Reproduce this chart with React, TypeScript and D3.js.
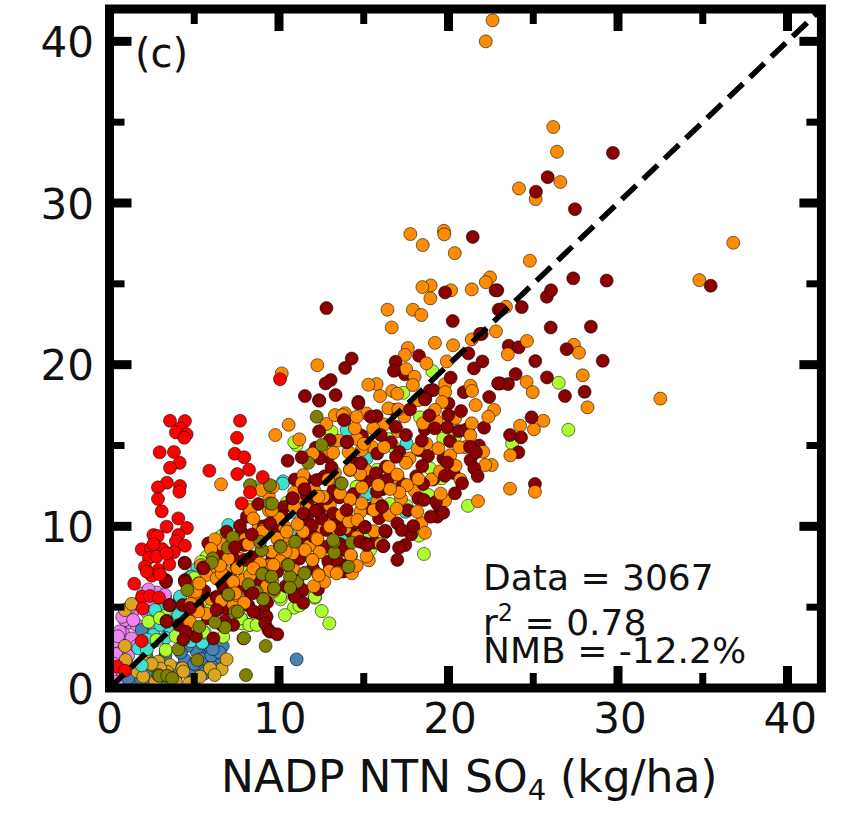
import * as d3 from "d3";

type Pt = [number, number];

const violet: Pt[] = [
  [1.21,4.04],[1.37,4.72],[2.49,3.96],[1.21,5.03],[1.7,5.24],[0.81,3.38],[0.62,2.55],[1.31,3.07],
  [0.52,1.73],[2.39,5.24],[3.27,5.65],[1.99,5.86],[1.99,3.59],[0.32,0.93],[0.9,4.2],[1.6,3.9],
  [0.6,3.5],[1.1,2.0],[0.4,2.1],[2.8,5.9],[2.3,6.1],[1.0,0.5],[0.5,0.4],[2.2,4.7],[0.75,4.4],
  [0.3,2.9],[0.5,3.2],[0.25,1.5],[0.7,1.1],[1.0,1.5],[1.6,2.6],[1.4,4.2],[2.59,3.9],[3.27,5.76],
];
const steelblue: Pt[] = [
  [6.52,1.84],[6.68,2.6],[5.73,1.98],[4.75,1.05],[5.34,1.22],[1.9,3.59],[1.5,0.62],[4.45,1.73],
  [5.14,2.24],[5.93,2.52],[11.04,1.77],[2.2,0.3],[3.0,0.4],[2.6,2.9],[3.9,0.7],[4.0,1.2],
  [6.05,1.3],[5.0,0.5],[1.2,0.2],[5.4,1.8],[4.6,2.6],[1.1,0.6],[2.4,0.9],[3.1,0.3],[2.2,1.9],
  [3.3,2.0],[4.2,2.2],[5.0,1.5],[5.6,0.9],[6.0,2.0],[6.5,2.2],[6.09,2.4],
];
const goldenrod: Pt[] = [
  [0.91,2.6],[0.95,1.73],[2.14,2.21],[1.64,1.01],[2.49,1.42],[3.57,1.42],[2.88,1.63],[6.62,1.16],
  [5.93,1.22],[6.91,1.77],[4.3,1.22],[0.91,4.82],[1.99,0.7],[3.17,0.8],[5.34,0.7],[3.4,1.0],
  [2.0,1.6],[3.9,0.4],[4.7,0.3],[3.0,1.2],[1.3,5.2],[2.7,0.4],[6.2,0.8],[4.36,1.02],[2.49,1.49],
];
const turquoise: Pt[] = [
  [13.79,9.36],[15.47,11.94],[17.53,15.13],[15.17,14.2],[17.47,10.9],[13.99,15.95],[13.78,9.36],
  [10.25,12.78],[12.91,11.05],[4.16,5.55],[4.06,4.62],[3.57,3.63],[5.53,2.83],[5.18,7.4],[11.83,14.41],
  [2.98,4.82],[7.01,10.08],[8.48,12.45],[10.65,9.46],[15.17,12.04],[2.59,3.28],[4.06,4.51],[3.57,3.59],
  [4.16,5.65],[5.44,2.76],[2.59,4.72],[1.7,2.45],[4.75,6.88],[10.75,10.9],[6.3,7.9],[12.6,13.0],
  [1.9,1.4],[2.2,3.0],[3.0,3.9],[2.2,2.4],[3.3,3.1],[4.3,3.0],[4.8,2.9],[2.69,4.83],[10.22,12.65],
  [5.48,2.81],[4.85,6.89],
];
const greenYellow: Pt[] = [
  [19.05,19.6],[17.33,18.26],[26.5,18.88],[27.07,15.97],[23.75,15.13],[21.15,11.27],[18.55,8.29],
  [18.26,9.42],[16.06,9.52],[14.68,15.69],[16.45,15.4],[18.32,16.74],[19.69,15.44],[20.38,15.54],
  [18.91,13.59],[19.6,12.97],[18.81,11.94],[17.53,11.26],[16.55,11.38],[14.62,12.45],[15.17,9.36],
  [15.37,8.53],[16.74,14.92],[12.97,4.0],[12.52,4.76],[12.12,5.58],[10.88,4.97],[10.35,4.51],[10.1,5.49],
  [8.29,3.9],[7.76,4.31],[5.63,3.42],[3.32,2.29],[10.45,11.46],[11.04,15.03],[13.1,15.85],[14.64,15.69],
  [14.58,12.45],[13.2,10.39],[5.73,8.12],[8.09,7.19],[3.17,4.37],[6.71,3.17],[3.32,2.35],[5.53,3.48],
  [2.78,2.97],[3.27,4.45],[5.83,5.18],[11.9,6.0],[11.2,5.1],[9.8,9.9],[11.9,11.4],[12.9,8.0],[7.2,4.9],
  [9.0,6.4],[10.9,15.2],[15.8,13.5],[17.0,13.0],[2.3,4.1],[3.9,3.2],[4.9,3.5],[6.0,4.9],[6.5,5.0],
  [5.0,6.8],[5.4,7.8],[6.6,9.4],[7.0,9.0],[8.2,11.2],[7.8,4.0],[8.9,4.4],[12.12,5.65],[13.11,10.18],
  [16.16,9.56],[15.27,9.4],[10.06,5.65],[7.74,4.31],[8.25,3.9],[8.68,3.9],[7.96,7.2],[2.98,4.32],
];
const darkRedFill: Pt[] = [
  [5.2,5.1],[5.6,6.0],[5.9,7.3],[6.4,8.3],[6.7,6.3],[6.9,4.9],[7.5,7.6],[7.8,9.6],[8.1,10.6],[8.4,8.1],
  [8.7,7.5],[8.2,5.1],[8.9,4.6],[9.3,5.3],[9.6,8.0],[9.9,9.6],[10.3,11.2],[10.6,7.9],[10.4,6.3],[10.9,5.7],
  [11.3,9.3],[11.7,10.3],[11.6,12.9],[12.0,7.4],[12.3,6.1],[12.5,11.2],[12.7,13.1],[12.9,14.3],[13.2,12.2],
  [13.4,10.4],[13.6,8.9],[13.8,7.2],[14.2,9.7],[14.4,12.0],[14.6,13.9],[14.9,15.6],[15.2,12.8],[15.4,11.1],
  [15.6,9.0],[15.9,10.5],[16.1,12.3],[16.3,13.7],[16.6,15.2],[16.8,17.2],[17.1,14.6],[17.3,12.6],[17.6,11.0],
  [17.8,9.5],[18.1,13.1],[18.3,14.7],[18.6,16.0],[18.9,18.4],[19.1,12.9],[19.4,11.3],[19.7,14.2],[20.0,17.6],
  [20.3,13.3],[20.6,15.9],[20.9,18.3],[21.3,14.1],[21.8,15.0],[22.1,16.1],[22.4,18.0],[4.1,3.9],[5.1,3.2],[5.8,4.3],
];
const darkRedUnder: Pt[] = [
  [21.17,20.7],[18.26,20.55],[14.29,20.38],[13.9,19.8],[17.43,19.4],[13.05,19.05],[11.53,18.06],[12.36,17.8],
  [13.34,18.12],[14.68,17.7],[19.1,18.43],[18.63,17.9],[22.94,18.84],[21.96,21.9],[25.8,24.2],[22.88,24.6],
  [23.55,21.17],[24.14,21.07],[23.06,18.84],[23.51,18.8],[24.12,14.58],[25.1,12.62],[21.17,16.06],[20.97,15.95],
  [19.26,11.52],[18.51,12.62],[13.89,16.62],[15.76,16.82],[16.88,16.16],[20.09,15.27],[15.8,14.5],[15.72,13.28],
  [13.99,15.2],[18.22,11.73],[19.34,10.6],[13.79,8.53],[16.3,9.67],[9.07,4.82],[11.4,6.06],[4.43,7.75],
  [3.33,6.68],[3.57,5.13],[4.45,6.68],[6.32,5.65],[6.36,4.87],[12.38,17.77],[12.16,14.86],[12.42,14.2],
  [13.1,13.65],[10.94,12.9],[13.0,15.34],[14.03,15.23],[12.22,12.86],[11.83,11.73],[12.81,11.73],[13.56,11.79],
  [12.16,10.97],[11.43,10.8],[8.78,11.38],[7.7,10.03],[6.91,9.67],[7.95,8.84],[7.3,8.02],[5.83,8.95],[5.53,7.46],
  [7.99,7.92],[12.71,8.74],[13.99,7.6],[15.07,8.95],[3.37,4.16],[6.62,3.9],[7.3,3.9],[9.27,4.41],[15.07,9.98],
  [3.53,5.13],[4.32,5.13],[6.81,4.14],[6.36,5.55],[4.45,6.57],[3.37,4.1],[3.33,6.57],[10.9,8.6],[12.0,9.4],
  [13.0,7.4],[11.2,8.0],[9.9,7.2],[8.6,6.5],[7.6,6.2],[10.2,10.6],[9.1,10.0],[14.5,10.2],[16.4,12.9],[13.6,9.8],
  [12.52,10.49],[11.93,10.04],[12.81,9.77],[13.2,10.8],[16.06,11.25],[9.67,10.22],[12.91,7.81],[13.5,7.75],
  [13.95,7.46],[10.95,5.65],[15.77,12.14],[11.63,11.93],[13.8,8.64],[7.11,6.89],[8.29,5.92],[8.49,4.73],[9.18,4.0],[9.37,3.6],
];
const orangeFill: Pt[] = [
  [5.0,5.8],[5.4,7.6],[6.0,5.5],[6.3,7.4],[6.6,8.9],[7.0,7.0],[7.3,5.2],[7.7,8.0],[8.0,9.2],[8.3,11.0],
  [8.5,6.2],[8.8,10.0],[9.1,6.9],[9.4,11.9],[9.7,6.0],[10.0,7.5],[10.3,10.0],[10.6,8.9],[10.9,12.1],[11.1,6.5],
  [11.4,11.7],[11.8,8.8],[12.1,12.2],[12.4,9.9],[12.6,14.6],[13.0,11.3],[13.3,13.3],[13.5,15.3],[13.9,9.9],
  [14.1,14.6],[14.3,7.1],[14.6,15.4],[14.8,10.9],[15.1,13.5],[15.3,7.9],[15.5,14.9],[15.8,11.5],[16.0,8.9],
  [16.2,16.3],[16.5,10.7],[16.7,13.0],[17.0,15.9],[17.2,11.7],[17.4,16.8],[17.7,14.2],[18.0,12.2],[18.2,17.8],
  [18.4,10.2],[18.7,15.1],[19.0,12.9],[19.3,16.5],[19.5,13.4],[19.8,11.6],[20.1,14.4],[20.4,16.7],[20.7,12.9],
  [21.0,14.9],[21.6,17.5],
];
const orange: Pt[] = [
  [22.6,41.3],[22.2,40.0],[17.75,28.08],[19.73,28.28],[19.75,28.06],[18.48,27.4],[20.37,26.9],[22.45,25.4],
  [22.2,25.1],[21.37,24.66],[20.15,24.6],[18.95,24.9],[18.46,24.8],[18.93,24.1],[16.4,23.4],[17.9,23.4],
  [18.4,23.07],[16.65,22.3],[19.2,21.35],[20.27,21.2],[17.6,21.03],[17.43,20.6],[18.7,20.08],[19.9,20.2],
  [12.26,19.97],[10.16,19.46],[17.5,19.73],[18.0,19.25],[15.76,18.8],[15.27,18.76],[17.9,18.74],[16.68,18.37],
  [16.98,18.2],[15.96,18.06],[19.8,18.8],[19.8,18.3],[21.3,18.7],[21.39,18.37],[21.37,21.56],[22.8,22.06],
  [26.18,34.7],[26.4,33.17],[26.6,31.3],[24.16,30.9],[25.14,30.24],[24.8,26.43],[36.8,27.54],[34.8,25.23],
  [23.39,23.58],[24.63,21.47],[23.5,20.64],[27.4,21.23],[27.7,20.74],[24.61,18.93],[24.97,18.3],[27.92,19.34],
  [28.2,17.36],[22.69,17.2],[22.35,16.78],[25.6,16.53],[25.04,16.0],[24.22,16.22],[23.65,14.39],[23.63,12.33],
  [25.1,12.14],[21.74,11.56],[32.5,17.9],[16.45,17.3],[17.04,17.24],[19.63,17.69],[19.2,17.2],[18.5,16.37],
  [21.37,16.37],[21.29,15.63],[20.64,14.89],[18.18,14.8],[19.4,14.82],[22.05,14.61],[22.55,13.79],[22.17,13.79],
  [20.42,13.75],[17.49,13.93],[16.47,13.67],[16.98,13.2],[15.88,12.55],[17.55,12.55],[17.1,12.1],[18.22,12.93],
  [19.54,12.02],[14.19,11.63],[14.78,13.23],[14.88,11.42],[15.59,11.0],[16.94,11.09],[18.61,9.6],[18.16,10.9],
  [14.62,9.32],[14.25,8.18],[15.17,8.14],[14.58,7.56],[13.76,10.64],[15.17,16.98],[14.48,16.06],[15.56,16.06],
  [13.89,17.0],[14.19,13.48],[10.57,16.28],[9.78,15.65],[11.2,15.38],[6.58,12.6],[8.94,12.24],[9.53,12.43],
  [8.48,10.49],[9.41,10.97],[12.79,16.33],[13.3,16.88],[13.76,16.88],[14.58,16.78],[14.88,14.72],[13.2,14.55],
  [14.19,13.52],[11.43,13.17],[12.61,11.83],[14.19,11.67],[13.7,10.7],[11.43,9.67],[12.22,9.26],[11.1,10.14],
  [14.6,9.36],[11.53,8.53],[10.8,8.58],[11.98,7.92],[12.97,7.23],[13.44,7.15],[12.32,7.03],[12.67,6.57],
  [12.06,6.3],[9.96,9.15],[9.57,8.43],[10.22,8.12],[10.88,7.3],[8.98,8.53],[9.07,9.77],[9.47,7.6],[8.88,7.71],
  [6.22,9.2],[5.99,8.6],[5.73,6.99],[5.24,6.47],[6.81,7.19],[7.21,6.68],[7.9,6.68],[7.5,5.75],[7.95,5.27],
  [4.65,4.2],[5.1,5.96],[6.32,6.78],[13.6,12.04],[11.34,12.66],[16.55,12.31],[14.19,10.35],[14.23,8.22],
  [9.01,9.67],[5.3,6.47],[4.75,4.1],[6.62,7.09],[7.3,6.57],[10.0,10.5],[12.9,12.9],[11.6,11.1],[13.0,10.0],
  [12.4,8.4],[10.4,9.4],[9.6,6.6],[8.3,7.0],[7.0,8.0],[15.6,9.7],[14.9,12.4],[16.2,14.9],[15.0,15.1],
  [12.0,14.5],[10.9,11.2],[6.6,5.4],[5.7,4.6],[4.8,5.2],[8.2,8.9],[15.86,12.55],[14.13,10.3],[14.62,10.39],
  [12.26,9.21],[9.9,9.25],[10.81,8.33],[10.39,8.43],[11.97,7.92],[14.62,9.32],[13.4,7.09],[12.34,6.97],
  [10.06,7.85],[9.67,7.61],[10.45,9.67],[12.32,11.83],[9.63,12.45],[9.57,11.0],[7.41,5.86],[7.54,7.4],[6.52,7.57],
  [8.49,7.4],[9.27,6.27],[5.24,4.73],
];
const olive: Pt[] = [
  [12.22,16.78],[13.66,12.66],[13.26,8.37],[13.26,9.05],[10.96,9.05],[10.06,8.78],[8.98,8.53],[6.99,8.68],
  [7.27,9.32],[6.09,8.02],[10.49,7.6],[11.53,7.13],[9.04,7.09],[9.47,6.88],[10.65,6.23],[9.7,6.12],[11.04,6.62],
  [8.68,5.96],[9.07,5.5],[7.01,5.75],[7.54,4.72],[6.81,3.75],[5.3,3.79],[6.22,4.06],[4.59,6.06],[9.47,11.42],
  [7.9,3.07],[9.21,2.6],[8.05,0.8],[4.06,2.39],[5.18,1.73],[2.88,0.8],[11.73,13.93],[12.52,15.03],[2.94,0.76],
  [3.41,0.76],[7.01,5.79],[7.4,4.72],[6.03,7.75],[8.88,9.05],[9.01,7.05],[11.06,6.57],[9.47,12.55],[8.29,12.55],
  [13.2,9.15],[10.65,6.88],[14.3,9.0],[14.1,7.5],[8.2,6.4],[3.7,0.6],[7.56,4.73],[10.1,8.74],[10.55,7.61],
  [9.57,6.89],[9.71,6.16],[13.7,12.65],[11.5,7.09],[10.65,6.2],[9.6,11.4],[9.08,5.49],[7.94,3.08],
];
const darkRedTop: Pt[] = [
  [21.43,27.9],[22.78,24.6],[19.8,24.47],[12.8,23.5],[22.96,23.4],[20.25,22.7],[21.86,21.9],[16.88,20.18],
  [16.78,19.62],[22.0,20.2],[21.5,19.77],[20.13,19.2],[12.75,18.84],[22.94,18.84],[29.7,33.1],[25.85,31.6],
  [25.16,30.7],[27.46,29.62],[27.36,25.34],[29.33,25.2],[35.47,24.88],[26.05,24.6],[24.32,23.56],[23.1,23.4],
  [26.03,22.3],[28.4,22.35],[25.12,20.22],[26.97,20.96],[29.1,20.24],[23.96,19.42],[25.81,19.21],[26.87,18.06],
  [28.03,18.32],[24.9,16.74],[23.63,15.65],[24.28,15.5],[18.61,17.85],[17.73,17.24],[20.74,17.13],[19.99,16.88],
  [18.87,16.86],[19.93,16.12],[19.2,16.06],[14.68,17.6],[15.41,16.78],[16.0,15.65],[17.49,15.65],[18.42,15.3],
  [21.27,14.92],[21.62,14.58],[18.79,14.35],[16.9,14.3],[14.84,13.9],[18.45,13.73],[19.93,13.95],[19.79,13.13],
  [21.52,13.59],[21.72,13.11],[20.8,12.66],[20.38,12.04],[18.55,11.63],[19.69,10.84],[18.95,10.6],[17.92,10.02],
  [16.98,10.19],[17.24,9.77],[16.15,8.78],[17.45,8.84],[17.08,8.68],[16.98,7.92],[15.07,9.94],[16.08,11.21],
  [14.78,9.05],[15.17,8.84],[4.51,3.48],[6.13,3.07],[9.47,3.48],[9.9,3.32],[11.43,5.27],[12.36,15.88],
  [10.51,14.06],[11.34,14.27],[13.83,16.57],[10.79,11.73],[9.47,10.18],[8.45,5.86],[6.32,4.82],[4.75,4.95],
  [4.45,7.71],[13.99,11.0],[11.5,12.3],[8.4,9.5],[7.4,8.7],[11.44,10.8],[12.16,10.96],[10.81,11.73],[16.26,9.73],
  [16.16,8.78],[4.36,3.0],[5.54,7.4],
];
const red: Pt[] = [
  [3.57,16.53],[4.45,16.51],[7.7,16.53],[4.16,16.06],[3.92,15.81],[4.55,15.69],[4.41,15.48],[7.52,15.48],
  [2.96,14.58],[3.8,14.6],[7.39,14.49],[7.95,14.27],[4.14,13.93],[3.57,13.62],[8.23,13.5],[5.89,13.44],
  [7.54,13.23],[9.04,13.05],[3.39,12.7],[2.86,12.41],[4.16,12.49],[4.12,12.14],[2.86,11.69],[8.29,12.1],
  [7.8,11.42],[3.08,10.93],[4.06,10.49],[3.37,9.98],[4.57,9.9],[2.59,9.46],[2.84,9.4],[4.06,9.46],[3.92,9.07],
  [4.45,8.8],[1.9,8.58],[2.45,8.64],[3.11,8.6],[3.8,8.41],[2.33,8.04],[2.78,8.12],[3.53,7.65],[2.09,7.5],
  [2.88,7.3],[2.49,6.95],[2.98,7.03],[3.37,8.33],[1.46,6.45],[1.92,5.65],[2.39,5.69],[2.92,5.59],[1.96,4.93],
  [1.9,2.91],[0.46,1.32],[0.91,1.07],[10.06,19.1],[2.2,7.2],[2.6,8.9],
];

const layers: { points: Pt[]; color: string }[] = [
  { points: violet, color: "#ee82ee" },
  { points: steelblue, color: "#4682b4" },
  { points: goldenrod, color: "#daa520" },
  { points: turquoise, color: "#40e0d0" },
  { points: greenYellow, color: "#adff2f" },
  { points: darkRedFill, color: "#8b0000" },
  { points: orangeFill, color: "#ff8c00" },
  { points: darkRedUnder, color: "#8b0000" },
  { points: orange, color: "#ff8c00" },
  { points: olive, color: "#808000" },
  { points: darkRedTop, color: "#8b0000" },
  { points: red, color: "#ff0000" },
];

const majorTicks = [10, 20, 30, 40];
const minorTicks = [5, 15, 25, 35];
const tickLabels = [0, 10, 20, 30, 40];

const FONT = "'DejaVu Sans', sans-serif";
const x = d3.scaleLinear().domain([0, 42]).range([109.5, 821.4]);
const y = d3.scaleLinear().domain([0, 42]).range([688, 9]);

export default function App() {
  const left = x(0), right = x(42), top = y(42), bottom = y(0);
  const ticks = (values: number[], len: number, w: number) =>
    values.map((v) => (
      <g key={v} stroke="#000" strokeWidth={w}>
        <line x1={x(v)} x2={x(v)} y1={bottom} y2={bottom - len} />
        <line x1={x(v)} x2={x(v)} y1={top} y2={top + len} />
        <line y1={y(v)} y2={y(v)} x1={left} x2={left + len} />
        <line y1={y(v)} y2={y(v)} x1={right} x2={right - len} />
      </g>
    ));

  return (
    <svg width={846} height={814} style={{ position: "absolute", left: 0, top: 0, background: "#fff" }} fontFamily={FONT}>
      <defs>
        <clipPath id="plot">
          <rect x={left} y={top} width={right - left} height={bottom - top} />
        </clipPath>
      </defs>
      <g clipPath="url(#plot)">
        {layers.map((layer, i) => (
          <g key={i} fill={layer.color} stroke="#000" strokeOpacity={0.55} strokeWidth={1}>
            {layer.points.map((d, j) => (
              <circle key={j} cx={x(d[0])} cy={y(d[1])} r={6.5} />
            ))}
          </g>
        ))}
        <line x1={x(0)} y1={y(0)} x2={x(42)} y2={y(42)} stroke="#000" strokeWidth={5.5} strokeDasharray="20 9.5" />
      </g>
      {ticks(majorTicks, 22, 9)}
      {ticks(minorTicks, 15, 7)}
      <rect x={left} y={top} width={right - left} height={bottom - top} fill="none" stroke="#000" strokeWidth={9} />
      {tickLabels.map((v) => (
        <text key={v} x={x(v) + v * 0.07} y={733} fontSize={42} textAnchor="middle" fill="#111">{v}</text>
      ))}
      {tickLabels.map((v) => (
        <text key={v} x={94} y={y(v) + 15.5} fontSize={42} textAnchor="end" fill="#111">{v}</text>
      ))}
      <text x={135} y={67} fontSize={40} fill="#111">(c)</text>
      <text x={483} y={590} fontSize={36} fill="#111">Data = 3067</text>
      <text x={483} y={635} fontSize={36} fill="#111">
        r<tspan fontSize={24} dy={-14}>2</tspan><tspan dy={14}> = 0.78</tspan>
      </text>
      <text x={483} y={663} fontSize={36} fill="#111">NMB = -12.2%</text>
      <text x={221} y={792} fontSize={44} fill="#111">
        NADP NTN SO<tspan fontSize={29} dy={8}>4</tspan><tspan dy={-8}> (kg/ha)</tspan>
      </text>
    </svg>
  );
}
